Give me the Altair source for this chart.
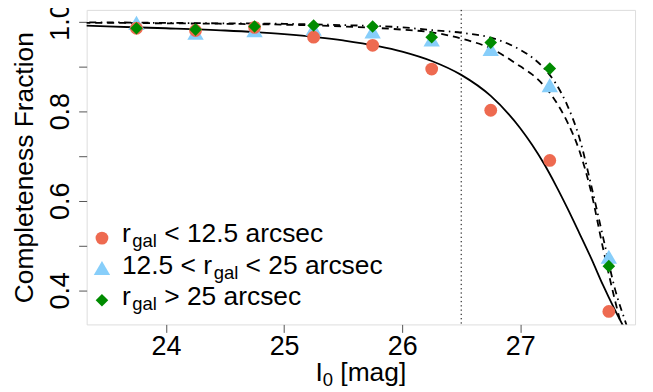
import altair as alt
import pandas as pd

FONT = "Liberation Sans"

# ---------------- data ----------------
mag_bins = [23.75, 24.25, 24.75, 25.25, 25.75, 26.25, 26.75, 27.25, 27.75]
frac_inner = [0.985, 0.980, 0.987, 0.965, 0.947, 0.894, 0.802, 0.690, 0.353]
frac_mid = [0.997, 0.975, 0.981, 0.984, 0.978, 0.960, 0.939, 0.858, 0.475]
frac_outer = [0.985, 0.982, 0.989, 0.991, 0.989, 0.965, 0.953, 0.895, 0.454]

curve_mag = [23.3, 23.5, 24.0, 24.5, 25.0, 25.5, 26.0, 26.25, 26.5, 26.75, 27.0,
             27.1, 27.2, 27.3, 27.4, 27.5, 27.6, 27.7, 27.8, 27.9, 28.0]
fit_inner = [0.991, 0.989, 0.985, 0.980, 0.972, 0.958, 0.933, 0.912, 0.881, 0.834, 0.762,
             0.725, 0.683, 0.635, 0.583, 0.528, 0.472, 0.412, 0.357, 0.307, 0.262]
fit_mid = [0.997, 0.997, 0.996, 0.995, 0.993, 0.989, 0.982, 0.976, 0.962, 0.940, 0.900,
           0.882, 0.857, 0.822, 0.775, 0.712, 0.620, 0.495, 0.380, 0.280, 0.200]
fit_outer = [0.998, 0.998, 0.997, 0.996, 0.995, 0.992, 0.987, 0.981, 0.975, 0.964, 0.937,
             0.920, 0.896, 0.862, 0.812, 0.741, 0.635, 0.520, 0.405, 0.322, 0.240]

limit_mag = [26.5]

x_ticks = [24, 25, 26, 27]
y_ticks = [0.4, 0.5, 0.6, 0.7, 0.8, 0.9, 1.0]
y_labels = ["0.4", "0.6", "0.8", "1.0"]

x_title = ["I", "0", "[mag]"]
legend_main = [["r", "< 12.5 arcsec"], ["12.5 < r", "< 25 arcsec"], ["r", "> 25 arcsec"]]
legend_sub = "gal"

# ---------------- styling ----------------
RED = "#EE6A50"
BLUE = "#87CEFA"
GREEN = "#008B00"
FS = 27
TFS = 26.5
LFS = 26.5

pts = pd.DataFrame({"mag": mag_bins, "inner": frac_inner, "mid": frac_mid, "outer": frac_outer})
fits = pd.DataFrame({"mag": curve_mag, "inner": fit_inner, "mid": fit_mid, "outer": fit_outer})

xs = alt.Scale(domain=[23.328, 27.972], nice=False, zero=False)
ys = alt.Scale(domain=[0.324, 1.026], nice=False, zero=False)

label_expr = "indexof(" + str(y_labels) + ", format(datum.value, '.1f')) >= 0 ? format(datum.value, '.1f') : ''"

xax = alt.Axis(values=x_ticks, title="", grid=False, domain=False,
               tickSize=8, tickColor="#555555", tickWidth=1,
               labelFontSize=FS, labelFont=FONT, labelColor="black", labelPadding=1,
               labelFlush=False, labelOverlap=False)
yax = alt.Axis(values=y_ticks, labelExpr=label_expr, title="Completeness Fraction", grid=False,
               domain=False, tickSize=8, tickColor="#555555", tickWidth=1,
               labelFontSize=FS, labelFont=FONT, labelColor="black", labelAngle=270,
               labelAlign="center", labelBaseline="alphabetic", labelPadding=10,
               labelFlush=False, labelOverlap=False,
               titleFontSize=TFS, titleFont=FONT, titleFontWeight="normal", titleColor="black",
               titleAngle=270, titleAlign="center", titleBaseline="alphabetic",
               titleX=-54, titleY=158)


def X(field):
    return alt.X(field, type="quantitative", scale=xs, axis=xax)


def Y(field):
    return alt.Y(field, type="quantitative", scale=ys, axis=yax)


rule = alt.Chart(pd.DataFrame({"m": limit_mag})).mark_rule(
    color="black", strokeWidth=1, strokeDash=[1.3, 3]).encode(x=X("m"))

line_inner = alt.Chart(fits).mark_line(clip=True, interpolate="monotone", color="black",
                                       strokeWidth=1.8).encode(x=X("mag"), y=Y("inner"))
line_mid = alt.Chart(fits).mark_line(clip=True, interpolate="monotone", color="black",
                                     strokeWidth=1.8, strokeDash=[7, 5]).encode(x=X("mag"), y=Y("mid"))
line_outer = alt.Chart(fits).mark_line(clip=True, interpolate="monotone", color="black",
                                       strokeWidth=1.8, strokeDash=[1.5, 4.5, 7, 4.5]).encode(x=X("mag"), y=Y("outer"))

p_mid = alt.Chart(pts).mark_point(shape="triangle-up", filled=True, size=270, color=BLUE,
                                  opacity=1).encode(x=X("mag"), y=Y("mid"))
p_inner = alt.Chart(pts).mark_point(shape="circle", filled=True, size=165, color=RED,
                                    opacity=1).encode(x=X("mag"), y=Y("inner"))
p_outer = alt.Chart(pts).mark_point(shape="diamond", filled=True, size=160, color=GREEN,
                                    opacity=1).encode(x=X("mag"), y=Y("outer"))

# ---------------- text layout helpers (Arial/Liberation advance widths) ----------------
AW = {" ": .278, "<": .584, ">": .584, ".": .278, "r": .333, "a": .556, "c": .5, "s": .5,
      "e": .556, "g": .556, "l": .222, "I": .278, "[": .278, "]": .278, "m": .833}
for d in "0123456789":
    AW[d] = .556


def tw(s, size):
    return sum(AW[c] for c in s) * size


one = pd.DataFrame({"k": [0]})


def txt(s, x, y, size):
    return alt.Chart(one).mark_text(text=s, align="left", baseline="alphabetic", fontSize=size,
                                    font=FONT, color="black").encode(x=alt.value(x), y=alt.value(y))


SUB = 0.7
SUB_DY = 5

# x-axis title "I_0 [mag]" with a real subscript
title_layers = []
t_total = tw(x_title[0], TFS) + tw(x_title[1], TFS * SUB) + tw(" " + x_title[2], TFS)
tx0 = 551 / 2 - t_total / 2
ty = 373
title_layers.append(txt(x_title[0], tx0, ty, TFS))
tx1 = tx0 + tw(x_title[0], TFS)
title_layers.append(txt(x_title[1], tx1, ty + SUB_DY, TFS * SUB))
tx2 = tx1 + tw(x_title[1], TFS * SUB) + tw(" ", TFS)
title_layers.append(txt(x_title[2], tx2, ty, TFS))

# ---------------- legend (pixel layout inside the plot area) ----------------
leg_sym_x = 15.4
leg_sym_y = [229.3, 259.3, 291.7]
leg_text_x = 35.5
leg_base_y = [233.7, 265.2, 296.5]
shapes = [("circle", 165, RED), ("triangle-up", 270, BLUE), ("diamond", 160, GREEN)]

legend_layers = []
for i in range(3):
    shp, sz, col = shapes[i]
    legend_layers.append(alt.Chart(one).mark_point(shape=shp, filled=True, size=sz, color=col,
                                                   opacity=1).encode(x=alt.value(leg_sym_x), y=alt.value(leg_sym_y[i])))
    pre, post = legend_main[i]
    x0 = leg_text_x
    legend_layers.append(txt(pre, x0, leg_base_y[i], LFS))
    x1 = x0 + tw(pre, LFS) + 1.5
    legend_layers.append(txt(legend_sub, x1, leg_base_y[i] + SUB_DY, LFS * SUB))
    x2 = x1 + tw(legend_sub, LFS * SUB) + tw(" ", LFS)
    legend_layers.append(txt(post, x2, leg_base_y[i], LFS))

chart = alt.layer(rule, line_inner, line_mid, line_outer, p_mid, p_inner, p_outer,
                  *legend_layers, *title_layers).properties(
    width=551, height=316,
    autosize=alt.AutoSizeParams(type="none"),
    padding={"left": 79, "top": 1, "right": 10, "bottom": 67},
    background="white",
).configure_view(stroke="black", strokeWidth=1.3).configure(font=FONT)

chart.save("out.html", embed_options={"renderer": "svg", "actions": False})
